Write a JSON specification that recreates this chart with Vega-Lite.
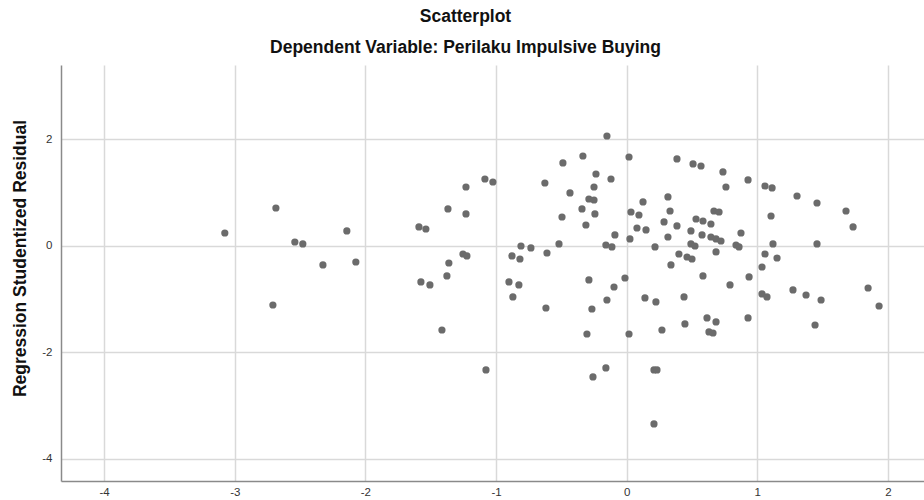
{
  "$schema": "https://vega.github.io/schema/vega-lite/v6.json",
  "width": 863,
  "height": 416,
  "autosize": {"type": "none"},
  "padding": {"left": 61, "top": 65, "right": 0, "bottom": 19},
  "background": "white",
  "config": {
    "view": {"stroke": null},
    "font": "Liberation Sans"
  },
  "title": {
    "text": "Scatterplot",
    "subtitle": "Dependent Variable: Perilaku Impulsive Buying",
    "anchor": "middle",
    "frame": "group",
    "dx": -27,
    "offset": 9,
    "font": "Liberation Sans",
    "fontSize": 17.5,
    "fontWeight": "bold",
    "color": "#111111",
    "subtitleFont": "Liberation Sans",
    "subtitleFontSize": 17.5,
    "subtitleFontWeight": "bold",
    "subtitleColor": "#111111",
    "subtitlePadding": 13
  },
  "data": {
    "values": [
      {"x": -3.076, "y": 0.238}, {"x": -2.685, "y": 0.707}, {"x": -2.540, "y": 0.069}, {"x": -2.479, "y": 0.032},
      {"x": -2.142, "y": 0.276}, {"x": -2.325, "y": -0.362}, {"x": -2.073, "y": -0.306}, {"x": -2.708, "y": -1.113},
      {"x": -1.590, "y": 0.351}, {"x": -1.537, "y": 0.313}, {"x": -1.368, "y": 0.689}, {"x": -1.361, "y": -0.325},
      {"x": -1.376, "y": -0.568}, {"x": -1.575, "y": -0.681}, {"x": -1.506, "y": -0.737}, {"x": -1.414, "y": -1.582},
      {"x": -1.230, "y": 1.101}, {"x": -1.085, "y": 1.251}, {"x": -1.024, "y": 1.195}, {"x": -1.230, "y": 0.595},
      {"x": -1.253, "y": -0.156}, {"x": -1.223, "y": -0.193}, {"x": -0.901, "y": -0.681}, {"x": -0.825, "y": -0.737},
      {"x": -0.871, "y": -0.962}, {"x": -0.878, "y": -0.193}, {"x": -0.817, "y": -0.250}, {"x": -0.809, "y": -0.006},
      {"x": -0.733, "y": -0.043}, {"x": -0.610, "y": -0.137}, {"x": -0.626, "y": 1.176}, {"x": -0.488, "y": 1.552},
      {"x": -0.335, "y": 1.683}, {"x": -0.518, "y": 0.032}, {"x": -0.495, "y": 0.538}, {"x": -0.434, "y": 0.989},
      {"x": -0.235, "y": 1.345}, {"x": -0.250, "y": 1.101}, {"x": -0.120, "y": 1.251}, {"x": -0.289, "y": 0.876},
      {"x": -0.250, "y": 0.857}, {"x": -0.342, "y": 0.689}, {"x": -0.243, "y": 0.595}, {"x": -0.312, "y": 0.388},
      {"x": -0.090, "y": 0.201}, {"x": -0.159, "y": 0.013}, {"x": -0.113, "y": -0.024}, {"x": 0.025, "y": 0.126},
      {"x": 0.018, "y": 1.664}, {"x": -0.151, "y": 2.058}, {"x": 0.385, "y": 1.627}, {"x": 0.033, "y": 0.632},
      {"x": 0.094, "y": 0.576}, {"x": 0.125, "y": 0.820}, {"x": 0.079, "y": 0.332}, {"x": 0.148, "y": 0.295},
      {"x": 0.217, "y": -0.024}, {"x": 0.316, "y": 0.914}, {"x": 0.332, "y": 0.651}, {"x": 0.286, "y": 0.445},
      {"x": 0.385, "y": 0.370}, {"x": 0.316, "y": 0.163}, {"x": 0.400, "y": -0.156}, {"x": 0.462, "y": -0.212},
      {"x": 0.500, "y": -0.250}, {"x": 0.339, "y": -0.362}, {"x": 0.684, "y": -0.118}, {"x": 0.508, "y": 1.533},
      {"x": 0.569, "y": 1.495}, {"x": 0.737, "y": 1.383}, {"x": 0.760, "y": 1.101}, {"x": 0.531, "y": 0.501},
      {"x": 0.584, "y": 0.463}, {"x": 0.645, "y": 0.407}, {"x": 0.668, "y": 0.651}, {"x": 0.707, "y": 0.632},
      {"x": 0.492, "y": 0.276}, {"x": 0.577, "y": 0.201}, {"x": 0.645, "y": 0.163}, {"x": 0.684, "y": 0.126},
      {"x": 0.722, "y": 0.088}, {"x": 0.492, "y": 0.032}, {"x": 0.523, "y": -0.006}, {"x": 0.929, "y": 1.233},
      {"x": 1.059, "y": 1.120}, {"x": 1.113, "y": 1.083}, {"x": 1.304, "y": 0.932}, {"x": 1.457, "y": 0.801},
      {"x": 1.679, "y": 0.651}, {"x": 1.733, "y": 0.351}, {"x": 1.105, "y": 0.557}, {"x": 0.875, "y": 0.238},
      {"x": 0.837, "y": 0.013}, {"x": 0.860, "y": -0.024}, {"x": 1.120, "y": 0.032}, {"x": 1.457, "y": 0.032},
      {"x": 1.059, "y": -0.156}, {"x": 1.151, "y": -0.231}, {"x": 1.036, "y": -0.400}, {"x": 0.584, "y": -0.568},
      {"x": 0.937, "y": -0.587}, {"x": 0.791, "y": -0.737}, {"x": 0.439, "y": -0.962}, {"x": 1.036, "y": -0.906},
      {"x": 1.074, "y": -0.962}, {"x": 1.273, "y": -0.831}, {"x": 1.373, "y": -0.925}, {"x": 1.488, "y": -1.019},
      {"x": 1.848, "y": -0.794}, {"x": 1.932, "y": -1.132}, {"x": 0.446, "y": -1.469}, {"x": 0.615, "y": -1.356},
      {"x": 0.684, "y": -1.431}, {"x": 0.929, "y": -1.356}, {"x": 0.630, "y": -1.619}, {"x": 0.661, "y": -1.638},
      {"x": 1.442, "y": -1.488}, {"x": 0.270, "y": -1.582}, {"x": 0.209, "y": -2.332}, {"x": 0.232, "y": -2.332},
      {"x": 0.209, "y": -3.345}, {"x": 0.140, "y": -0.981}, {"x": 0.224, "y": -1.056}, {"x": -0.289, "y": -0.643},
      {"x": -0.013, "y": -0.606}, {"x": -0.097, "y": -0.775}, {"x": -0.151, "y": -1.019}, {"x": -0.266, "y": -1.188},
      {"x": -0.304, "y": -1.657}, {"x": 0.018, "y": -1.657}, {"x": -0.159, "y": -2.294}, {"x": -0.258, "y": -2.463},
      {"x": -1.077, "y": -2.332}, {"x": -0.618, "y": -1.169}
    ]
  },
  "mark": {"type": "circle", "size": 52, "color": "#6b6b6b", "opacity": 1},
  "encoding": {
    "x": {
      "field": "x",
      "type": "quantitative",
      "scale": {"domain": [-4.33, 2.276], "nice": false, "zero": false},
      "axis": {
        "title": null,
        "values": [-4, -3, -2, -1, 0, 1, 2],
        "labelExpr": "'' + datum.value",
        "grid": true,
        "gridColor": "#d9d9d9",
        "gridWidth": 1.5,
        "domain": true,
        "domainColor": "#8a8a8a",
        "domainWidth": 1.5,
        "ticks": false,
        "labelPadding": 5,
        "labelFontSize": 11.5,
        "labelColor": "#333333",
        "labelFont": "Liberation Sans"
      }
    },
    "y": {
      "field": "y",
      "type": "quantitative",
      "scale": {"domain": [-4.415, 3.39], "nice": false, "zero": false},
      "axis": {
        "title": "Regression Studentized Residual",
        "values": [-4, -2, 0, 2],
        "labelExpr": "'' + datum.value",
        "grid": true,
        "gridColor": "#d9d9d9",
        "gridWidth": 1.5,
        "domain": true,
        "domainColor": "#8a8a8a",
        "domainWidth": 1.5,
        "ticks": false,
        "labelPadding": 9,
        "labelFontSize": 11.5,
        "labelColor": "#333333",
        "labelFont": "Liberation Sans",
        "titleFont": "Liberation Sans",
        "titleFontSize": 17.5,
        "titleFontWeight": "bold",
        "titleColor": "#111111",
        "titleX": -41,
        "titleY": 193,
        "titleAngle": 270,
        "titleAlign": "center",
        "titleBaseline": "middle"
      }
    }
  }
}
